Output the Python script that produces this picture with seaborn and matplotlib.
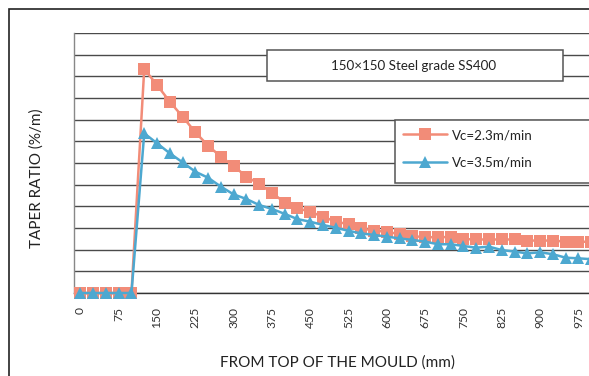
import numpy as np
import pandas as pd
import matplotlib
matplotlib.use("Agg")
import matplotlib.pyplot as plt
from matplotlib.patches import Rectangle
import seaborn as sns

# ---- data ----
positions = list(range(0, 1001, 25))  # mm from top of mould
vc23 = [0, 0, 0, 0, 0,
        1.034, 0.960, 0.883, 0.814, 0.742, 0.680, 0.629, 0.586, 0.537, 0.503,
        0.463, 0.417, 0.391, 0.375, 0.352, 0.329, 0.318, 0.299, 0.287, 0.283,
        0.271, 0.263, 0.257, 0.258, 0.258, 0.249, 0.247, 0.247, 0.247, 0.247,
        0.242, 0.242, 0.242, 0.237, 0.237, 0.236]
vc35 = [0, 0, 0, 0, 0,
        0.737, 0.691, 0.645, 0.603, 0.560, 0.532, 0.491, 0.455, 0.434, 0.406,
        0.388, 0.365, 0.341, 0.329, 0.314, 0.301, 0.287, 0.275, 0.268, 0.260,
        0.252, 0.245, 0.237, 0.225, 0.225, 0.217, 0.209, 0.214, 0.198, 0.191,
        0.183, 0.188, 0.179, 0.163, 0.160, 0.156]
series_labels = ["Vc=2.3m/min", "Vc=3.5m/min"]
title_text = "150\u00d7150 Steel grade SS400"
xlabel_text = "FROM TOP OF THE MOULD (mm)"
ylabel_text = "TAPER RATIO (%/m)"

salmon = "#F28C78"
blue = "#4DA8D0"

sns.set_style("white")
plt.rcParams["font.family"] = ["Lato", "Noto Sans CJK SC", "DejaVu Sans"]

W, H = 589, 376
fig = plt.figure(figsize=(W / 100, H / 100), dpi=100)
fig.patch.set_facecolor("white")

cat_w = 12.77
n = len(positions)
left, top, bottom = 74, 33, 293
ax = fig.add_axes([left / W, (H - bottom) / H, n * cat_w / W, (bottom - top) / H])

idx = np.arange(n)
sns.lineplot(x=idx, y=vc23, marker="s", color=salmon, markersize=8.8,
             markeredgewidth=0, linewidth=1.8, label=series_labels[0],
             ax=ax, clip_on=False, zorder=3)
sns.lineplot(x=idx, y=vc35, marker="^", color=blue, markersize=9.2,
             markeredgewidth=0, linewidth=1.8, label=series_labels[1],
             ax=ax, clip_on=False, zorder=4)

ax.set_xlim(-0.5, n - 0.5)
ax.set_ylim(0, 1.2)
ax.set_yticks(np.arange(0, 1.21, 0.1))
ax.set_yticklabels([])
ax.tick_params(axis="y", length=0)
ax.grid(axis="y", color="#4a4a4a", linewidth=1.0)
ax.set_axisbelow(True)

# x ticks: labels every 3 categories, small inward ticks at category boundaries
lab_idx = idx[::3]
ax.set_xticks(lab_idx)
ax.set_xticklabels([str(positions[i]) for i in lab_idx], rotation=90,
                   fontsize=8.7, color="#333333")
ax.tick_params(axis="x", length=0, pad=10)
ax.set_xticks(np.arange(0.5, n - 0.5, 1.0), minor=True)
ax.tick_params(axis="x", which="minor", direction="in", length=4.5,
               width=0.9, color="#333333")

for s in ["top", "right"]:
    ax.spines[s].set_visible(False)
ax.spines["left"].set_color("#888888")
ax.spines["left"].set_linewidth(1.0)
ax.spines["bottom"].set_color("#333333")
ax.spines["bottom"].set_linewidth(1.0)

ax.set_xlabel("")
ax.set_ylabel("")
fig.text(337 / W, 1 - 363 / H, xlabel_text,
         ha="center", va="center", fontsize=11, color="#222222")
fig.text(37 / W, 1 - 178 / H, ylabel_text, rotation=90,
         ha="center", va="center", fontsize=11, color="#222222")

# title box
tb = Rectangle((267 / W, 1 - 80.7 / H), (563 - 267) / W, 30.7 / H,
               transform=fig.transFigure, facecolor="white",
               edgecolor="#555555", linewidth=1.1, zorder=5)
fig.add_artist(tb)
fig.text(414 / W, 1 - 66 / H, title_text, ha="center", va="center",
         fontsize=9.6, color="#222222", zorder=6)

# legend box
lb = Rectangle((395 / W, 1 - 182.7 / H), 240 / W, 62.7 / H,
               transform=fig.transFigure, facecolor="white",
               edgecolor="#555555", linewidth=1.1, zorder=5)
fig.add_artist(lb)
handles, labels = ax.get_legend_handles_labels()
ax.get_legend().remove()
leg = fig.legend(handles, labels, loc="upper left",
                 bbox_to_anchor=(403 / W, 1 - 129 / H),
                 bbox_transform=fig.transFigure, frameon=False,
                 borderpad=0, borderaxespad=0, handlelength=3.3,
                 handletextpad=0.4, labelspacing=1.15, fontsize=9.6)
leg.set_zorder(7)
for t in leg.get_texts():
    t.set_color("#222222")

# outer frame (cropped on right and bottom)
frame = Rectangle((9 / W, -0.5), 2.0, 0.5 + 1 - 9 / H,
                  transform=fig.transFigure, fill=False,
                  edgecolor="#222222", linewidth=1.2, zorder=10)
fig.add_artist(frame)

fig.savefig("out.png", dpi=100, facecolor="white")
